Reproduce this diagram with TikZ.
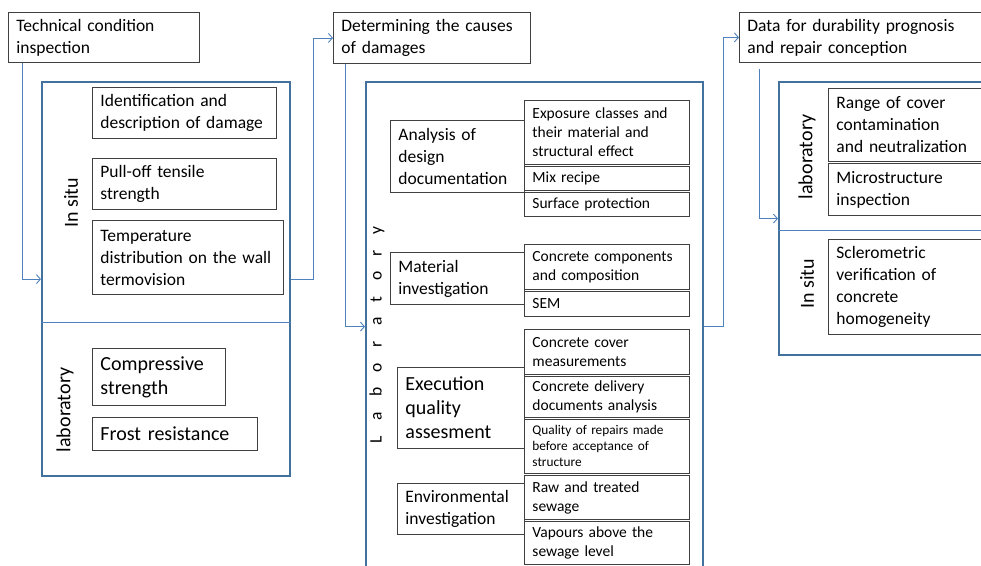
\documentclass[tikz,border=0pt]{standalone}
\usepackage{fontspec}
\setmainfont{Carlito}
\usepackage{tikz}
\usetikzlibrary{arrows.meta}
\definecolor{panelblue}{RGB}{65,113,156}
\definecolor{linkblue}{RGB}{79,129,189}
\definecolor{boxgray}{RGB}{64,64,64}

\begin{document}
\begin{tikzpicture}[x=1pt,y=-1pt]
  \useasboundingbox (0,0) rectangle (981,565);
  \clip (0,0) rectangle (981,565);

  % the three big frames
  \begin{scope}[every node/.style={draw=panelblue,line width=2.2pt,anchor=north west,inner sep=0pt}]
      \node[minimum width=248pt,minimum height=394pt] (leftpanel) at (41,81) {};
      \node[minimum width=337pt,minimum height=489pt] (midpanel) at (365,81) {};
      \node[minimum width=222pt,minimum height=273pt] (rightpanel) at (778,81) {};
  \end{scope}

  \tikzset{sep line/.style={linkblue,line width=0.8pt}}
  \draw[sep line] ([yshift=-241pt]leftpanel.north west) -- ([yshift=-241pt]leftpanel.north east);
  \draw[sep line] ([yshift=-149pt]rightpanel.north west) -- ([yshift=-149pt]rightpanel.north east);

  \tikzset{subbox/.style={text width=149pt,font=\fontsize{15.5}{19}\selectfont},
           bigtext/.style={font=\fontsize{20}{24}\selectfont}}

  \begin{scope}[every node/.style={draw=boxgray,line width=0.9pt,anchor=north west,align=left,inner xsep=8pt,inner ysep=0pt,font=\fontsize{17.5}{22}\selectfont}]
      % first column
      \node[text width=175pt,minimum height=50pt] (tci) at (8,12) {Technical condition\\inspection};
      \node[text width=168pt,minimum height=51pt] (idd) at (92,87) {Identification and\\description of damage};
      \node[text width=168pt,minimum height=51pt] (pot) at (92,158) {Pull-off tensile\\strength};
      \node[text width=175pt,minimum height=74pt] (tdw) at (92,220) {Temperature\\distribution on the wall\\termovision};
      \node[bigtext,text width=117pt,minimum height=57pt] (cs) at (92,348) {Compressive\\strength};
      \node[bigtext,text width=149pt,minimum height=33pt] (fr) at (92,417) {Frost resistance};

      % second column
      \node[text width=181pt,minimum height=51pt] (dcd) at (333,12) {Determining the causes\\of damages};

      \node[text width=118pt,minimum height=72pt] (add) at (390,120) {Analysis of\\design\\documentation};
      \node[subbox,minimum height=64pt] (ecl) at (524,100) {Exposure classes and\\their material and\\structural effect};
      \node[subbox,minimum height=24.5pt] (mix) at (524,165.5) {Mix recipe};
      \node[subbox,minimum height=24.5pt] (sp) at (524,191.5) {Surface protection};

      \node[text width=118pt,minimum height=52pt] (mi) at (390,252) {Material\\investigation};
      \node[subbox,minimum height=45pt] (ccc) at (524,244) {Concrete components\\and composition};
      \node[subbox,minimum height=25.5pt] (sem) at (524,290.5) {SEM};

      \node[bigtext,text width=111pt,minimum height=81pt] (eqa) at (397,367) {Execution\\quality\\assesment};
      \node[subbox,minimum height=45pt] (ccm) at (524,329) {Concrete cover\\measurements};
      \node[subbox,minimum height=41.5pt] (cdd) at (524,375.5) {Concrete delivery\\documents analysis};
      \node[subbox,font=\fontsize{13.3}{16}\selectfont,minimum height=54.5pt] (qrm) at (524,418.5) {Quality of repairs made\\before acceptance of\\structure};

      \node[text width=111pt,minimum height=51pt] (ei) at (397,483) {Environmental\\investigation};
      \node[subbox,minimum height=44pt] (rts) at (524,475) {Raw and treated\\sewage};
      \node[subbox,minimum height=43.5pt] (vas) at (524,520.5) {Vapours above the\\sewage level};

      % third column
      \node[text width=235pt,minimum height=50pt] (data) at (739,12) {Data for durability prognosis\\and repair conception};
      \node[text width=146pt,minimum height=73pt] (rcc) at (828,88) {Range of cover\\contamination\\and neutralization};
      \node[text width=146pt,minimum height=52pt] (msi) at (828,163) {Microstructure\\inspection};
      \node[text width=146pt,minimum height=95pt] (svc) at (828,239) {Sclerometric\\verification of\\concrete\\homogeneity};
  \end{scope}

  % side labels
  \begin{scope}[every node/.style={rotate=90,font=\fontsize{20}{24}\selectfont}]
      \node (insituA) at (71,203) {In situ};
      \node (labA) at (65,410) {laboratory};
      \node (labB) at (807,157) {laboratory};
      \node (insituB) at (807,284) {In situ};
      \node[font=\fontsize{17.5}{22}\selectfont] (labM) at (377,335) {\spaceskip=15.4pt L a b o r a t o r y};
  \end{scope}

  \tikzset{link/.style={->,linkblue,line width=0.9pt,>={Straight Barb[length=4pt,width=9pt]}}}

  \draw[link] ([xshift=14pt]tci.south west) |- (leftpanel.west);
  \draw[link] (leftpanel.east) -- ++(22,0) |- (dcd.west);
  \draw[link] ([xshift=12pt]dcd.south west) |- (midpanel.west);
  \draw[link] (midpanel.east) -- ++(19,0) |- (data.west);
  \draw[link] ([xshift=20pt,yshift=-6pt]data.south west) |- (rightpanel.west);

\end{tikzpicture}
\end{document}
